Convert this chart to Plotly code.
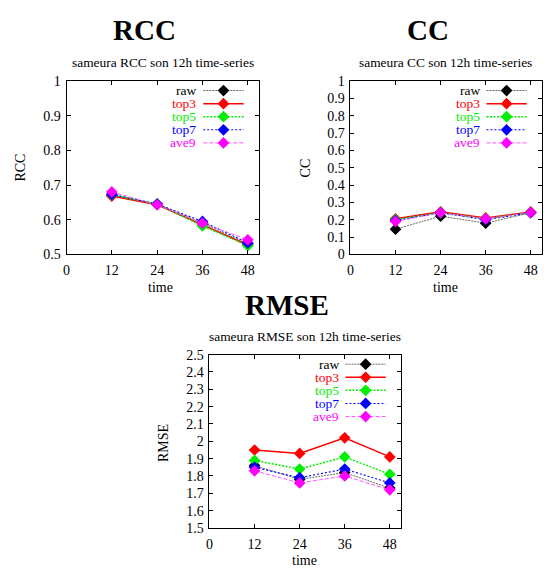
import plotly.graph_objects as go

W, H = 544, 573

times = [12, 24, 36, 48]
series_names = ["raw", "top3", "top5", "top7", "ave9"]

rcc_raw = [0.670, 0.645, 0.590, 0.530]
rcc_top3 = [0.668, 0.643, 0.585, 0.527]
rcc_top5 = [0.672, 0.645, 0.582, 0.525]
rcc_top7 = [0.673, 0.645, 0.595, 0.533]
rcc_ave9 = [0.680, 0.643, 0.590, 0.542]

cc_raw = [0.145, 0.220, 0.180, 0.240]
cc_top3 = [0.205, 0.245, 0.210, 0.245]
cc_top5 = [0.200, 0.240, 0.205, 0.240]
cc_top7 = [0.195, 0.240, 0.200, 0.240]
cc_ave9 = [0.190, 0.240, 0.205, 0.240]

rmse_raw = [1.86, 1.78, 1.82, 1.73]
rmse_top3 = [1.95, 1.93, 2.02, 1.91]
rmse_top5 = [1.89, 1.84, 1.91, 1.81]
rmse_top7 = [1.85, 1.79, 1.84, 1.76]
rmse_ave9 = [1.83, 1.76, 1.80, 1.72]

x_ticks = [0, 12, 24, 36, 48]
rcc_ticks = [0.5, 0.6, 0.7, 0.8, 0.9, 1.0]
rcc_ticklabels = ["0.5", "0.6", "0.7", "0.8", "0.9", "1"]
cc_ticks = [0.0, 0.1, 0.2, 0.3, 0.4, 0.5, 0.6, 0.7, 0.8, 0.9, 1.0]
cc_ticklabels = ["0", "0.1", "0.2", "0.3", "0.4", "0.5", "0.6", "0.7", "0.8", "0.9", "1"]
rmse_ticks = [1.5, 1.6, 1.7, 1.8, 1.9, 2.0, 2.1, 2.2, 2.3, 2.4, 2.5]
rmse_ticklabels = ["1.5", "1.6", "1.7", "1.8", "1.9", "2", "2.1", "2.2", "2.3", "2.4", "2.5"]

colors = ["#000000", "#ff0000", "#00ee00", "#0000ff", "#ff00ff"]
line_colors = ["#666666", "#ff0000", "#00ee00", "#0000ff", "#ff55ff"]
dashes = ["2px,1px", "solid", "2px,1.5px", "2px,2px", "4px,2px"]
widths = [1, 1.5, 1.5, 1.1, 1]

FONT = "Liberation Serif, Times New Roman, serif"

panels = [
    dict(key="RCC", data=[rcc_raw, rcc_top3, rcc_top5, rcc_top7, rcc_ave9],
         ticks=rcc_ticks, labels=rcc_ticklabels, yr=[0.5, 1.0],
         box=(63, 257, 76, 254), title_c=(142, 24), sub_c=(160, 57),
         ytitle_c=(17, 165), xtitle_c=(158, 288),
         subtitle="sameura RCC son 12h time-series"),
    dict(key="CC", data=[cc_raw, cc_top3, cc_top5, cc_top7, cc_ave9],
         ticks=cc_ticks, labels=cc_ticklabels, yr=[0.0, 1.0],
         box=(349, 542, 76, 254), title_c=(427, 24), sub_c=(445, 57),
         ytitle_c=(304, 165), xtitle_c=(445, 288),
         subtitle="sameura CC son 12h time-series"),
    dict(key="RMSE", data=[rmse_raw, rmse_top3, rmse_top5, rmse_top7, rmse_ave9],
         ticks=rmse_ticks, labels=rmse_ticklabels, yr=[1.5, 2.5],
         box=(207, 400, 357, 535), title_c=(285, 306), sub_c=(303, 338),
         ytitle_c=(160, 448), xtitle_c=(303, 568),
         subtitle="sameura RMSE son 12h time-series"),
]


def px(x):
    return x / W


def py(y):
    return (H - y) / H


fig = go.Figure()
layout = dict(
    width=W, height=H, margin=dict(l=0, r=0, t=0, b=0, pad=0),
    paper_bgcolor="white", plot_bgcolor="white", showlegend=False,
    font=dict(family=FONT, size=14, color="black"),
)
annotations = []

axis_common = dict(showgrid=False, zeroline=False, showline=True, linecolor="black",
                   linewidth=1, mirror="ticks", ticks="inside", ticklen=4,
                   tickcolor="black", tickwidth=1,
                   tickfont=dict(family=FONT, size=14, color="black"))

for i, p in enumerate(panels):
    n = i + 1
    xa = "x" if n == 1 else f"x{n}"
    ya = "y" if n == 1 else f"y{n}"
    ln = 3 + n  # legend overlay axis number
    l, r, t, b = p["box"]
    layout["xaxis" if n == 1 else f"xaxis{n}"] = dict(
        domain=[px(l), px(r)], anchor=ya, range=[0, 51], ticklabelstandoff=3,
        tickvals=x_ticks, ticktext=[str(v) for v in x_ticks], **axis_common)
    layout["yaxis" if n == 1 else f"yaxis{n}"] = dict(
        domain=[py(b), py(t)], anchor=xa, range=p["yr"], ticklabelstandoff=2,
        tickvals=p["ticks"], ticktext=p["labels"], **axis_common)
    # legend overlay axes
    layout[f"xaxis{ln}"] = dict(overlaying=xa, anchor=f"y{ln}", range=[0, 1], visible=False)
    layout[f"yaxis{ln}"] = dict(overlaying=ya, anchor=f"x{ln}", range=[0, 1], visible=False)

    for s, (name, vals) in enumerate(zip(series_names, p["data"])):
        fig.add_trace(go.Scatter(
            x=times, y=vals, mode="lines+markers", name=name, xaxis=xa, yaxis=ya,
            line=dict(color=line_colors[s], dash=dashes[s], width=widths[s]),
            marker=dict(symbol="diamond", size=9, color=colors[s]),
        ))
        # legend entry
        ly = 0.945 - s * 0.0755
        fig.add_trace(go.Scatter(
            x=[0.71, 0.815, 0.92], y=[ly, ly, ly], mode="lines", xaxis=f"x{ln}", yaxis=f"y{ln}",
            line=dict(color=line_colors[s], dash=dashes[s], width=widths[s]),
            hoverinfo="skip"))
        fig.add_trace(go.Scatter(
            x=[0.815], y=[ly], mode="markers", xaxis=f"x{ln}", yaxis=f"y{ln}",
            marker=dict(symbol="diamond", size=9, color=colors[s]), hoverinfo="skip"))
        annotations.append(dict(
            text=name, xref=f"x{ln}", yref=f"y{ln}", x=0.685, y=ly,
            xanchor="right", yanchor="middle", showarrow=False,
            font=dict(family=FONT, size=13.5, color=colors[s])))

    annotations.append(dict(text="<b>%s</b>" % p["key"], x=px(p["title_c"][0]), y=py(p["title_c"][1]),
                            xref="paper", yref="paper", xanchor="center", yanchor="middle",
                            showarrow=False, font=dict(family=FONT, size=29, color="black")))
    annotations.append(dict(text=p["subtitle"], x=px(p["sub_c"][0]), y=py(p["sub_c"][1]),
                            xref="paper", yref="paper", xanchor="center", yanchor="middle",
                            showarrow=False, font=dict(family=FONT, size=13.4, color="black")))
    annotations.append(dict(text=p["key"], x=px(p["ytitle_c"][0]), y=py(p["ytitle_c"][1]),
                            xref="paper", yref="paper", xanchor="center", yanchor="middle",
                            textangle=-90, showarrow=False,
                            font=dict(family=FONT, size=14, color="black")))
    annotations.append(dict(text="time", x=px(p["xtitle_c"][0]), y=py(p["xtitle_c"][1]),
                            xref="paper", yref="paper", xanchor="center", yanchor="middle",
                            showarrow=False, font=dict(family=FONT, size=14, color="black")))

layout["annotations"] = annotations
fig.update_layout(**layout)
fig.write_html("out.html", config={"displayModeBar": False},
               post_script="document.body.style.margin='0';document.body.style.padding='0';")
